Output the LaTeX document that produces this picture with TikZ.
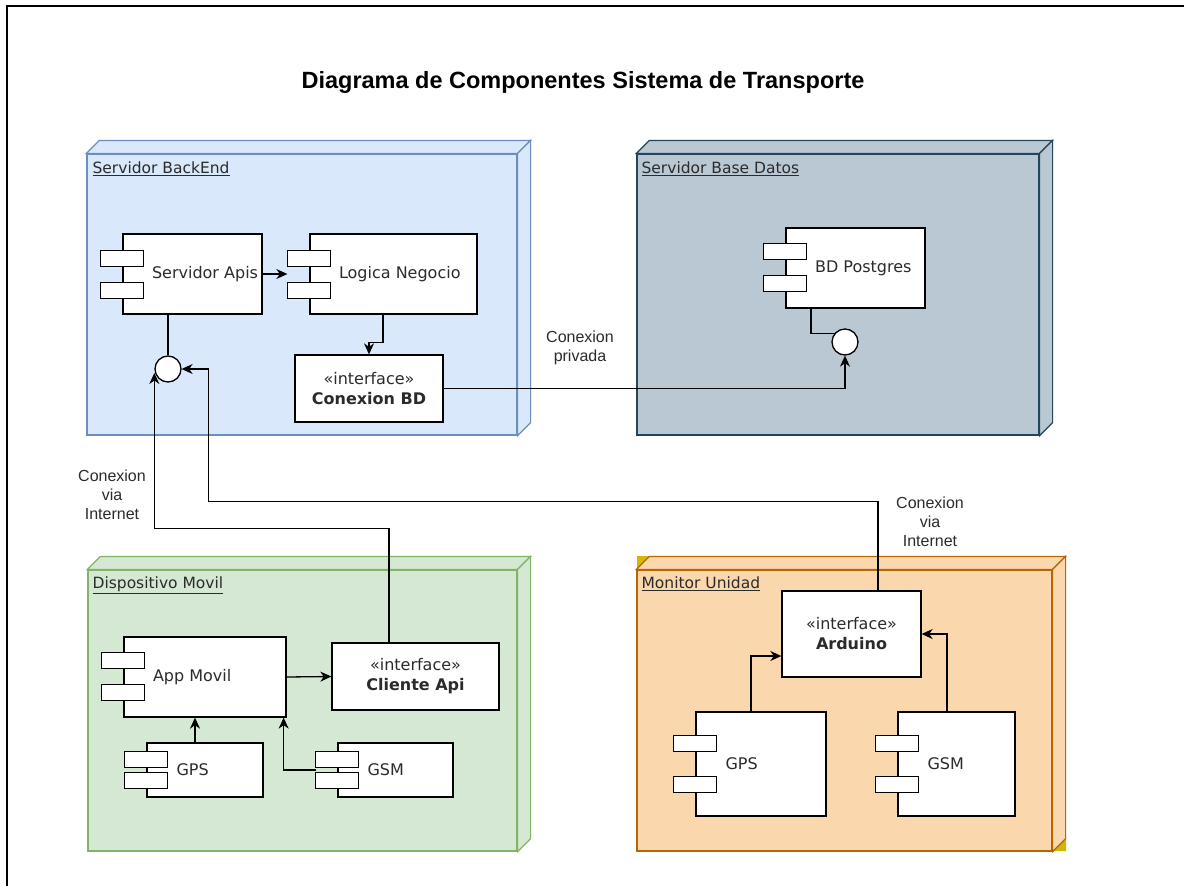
\documentclass[tikz,border=0pt]{standalone}
\usepackage{fontspec}
\setmainfont{DejaVu Sans}
\newfontfamily\labelfont{Liberation Sans}
\usetikzlibrary{arrows.meta,calc}

\definecolor{txt}{HTML}{2B2B2B}
\definecolor{beFill}{HTML}{DAE8FC}\definecolor{beLine}{HTML}{6C8EBF}
\definecolor{dbFill}{HTML}{BAC8D3}\definecolor{dbLine}{HTML}{23445D}
\definecolor{mvFill}{HTML}{D5E8D4}\definecolor{mvLine}{HTML}{82B366}
\definecolor{muFill}{HTML}{FAD7AC}\definecolor{muLine}{HTML}{B46504}
\definecolor{muCorner}{HTML}{D2B800}

% two small tabs on the left side of a UML component
\newcommand\comptabs[3]{%
  \draw[tab] ([shift={(-22,#2)}]#1.north west) rectangle ++(43,16);
  \draw[tab] ([shift={(-22,#3)}]#1.north west) rectangle ++(43,16);}

% depth faces of a deployment node (3D box): node, fill, stroke
\newcommand\cubefaces[3]{%
  \filldraw[fill=#2, draw=#3, line width=1.2pt, line join=miter] (#1.north west) -- ++(13,-13)
     -- ([shift={(13,-13)}]#1.north east) -- (#1.north east) -- cycle;
  \filldraw[fill=#2, draw=#3, line width=1.2pt, line join=miter] (#1.north east) -- ++(13,-13)
     -- ([shift={(13,-13)}]#1.south east) -- (#1.south east) -- cycle;}

\begin{document}
\begin{tikzpicture}[x=1pt,y=-1pt,
  depnode/.style={draw, line width=1.2pt, inner sep=0pt},
  comp/.style={draw=black, fill=white, line width=1.3pt, inner sep=0pt},
  tab/.style={draw=black, fill=white, line width=1.3pt},
  ctext/.style={font=\fontsize{16}{19}\selectfont, text=txt, inner sep=0pt, anchor=west},
  iface/.style={comp, align=center, font=\fontsize{16}{20}\selectfont, text=txt},
  nlabel/.style={font=\fontsize{15.5}{18}\selectfont, text=txt, inner sep=0pt, anchor=base west},
  elabel/.style={font=\labelfont\fontsize{16}{19}\selectfont, align=center, text=txt, inner sep=0pt},
  lollipop/.style={circle, draw=black, fill=white, line width=1.3pt, minimum size=26pt, inner sep=0pt},
  wire/.style={draw=black, line width=1.3pt},
  arr/.style={wire, -{Stealth[length=11pt,width=10pt,inset=3.5pt]}}
]
\useasboundingbox (0,0) rectangle (1184,886);
\fill[white] (0,0) rectangle (1184,886);

% page frame
\draw[line width=2pt] (7,886) -- (7,6) -- (1184,6);

% title
\node[font=\labelfont\bfseries\fontsize{23.5}{28}\selectfont, inner sep=0pt] (title) at (583,82)
  {Diagrama de Componentes Sistema de Transporte};

% ---- deployment nodes ----
\node[depnode, fill=beFill, draw=beLine, minimum width=430pt, minimum height=281pt] (backend) at (302,294.5) {};
\cubefaces{backend}{beFill}{beLine}
\node[nlabel] (backendL) at ([shift={(6,20)}]backend.north west) {\underline{Servidor BackEnd}};

\node[depnode, fill=dbFill, draw=dbLine, minimum width=402pt, minimum height=281pt] (dbserver) at (838,294.5) {};
\cubefaces{dbserver}{dbFill}{dbLine}
\node[nlabel] (dbserverL) at ([shift={(5,20)}]dbserver.north west) {\underline{Servidor Base Datos}};

\node[depnode, fill=mvFill, draw=mvLine, minimum width=429pt, minimum height=281pt] (movil) at (302.5,710.5) {};
\cubefaces{movil}{mvFill}{mvLine}
\node[nlabel] (movilL) at ([shift={(5,19.5)}]movil.north west) {\underline{Dispositivo Movil}};

\fill[muCorner] (637,556) -- (650,556) -- (637,569) -- cycle;
\fill[muCorner] (1066,838) -- (1066,851) -- (1053,851) -- cycle;
\node[depnode, fill=muFill, draw=muLine, minimum width=415pt, minimum height=281pt] (monitor) at (844.5,710.5) {};
\cubefaces{monitor}{muFill}{muLine}
\node[nlabel] (monitorL) at ([shift={(5,19.5)}]monitor.north west) {\underline{Monitor Unidad}};

% ---- Servidor BackEnd ----
\node[comp, minimum width=139pt, minimum height=80pt] (apis) at (192.5,274) {};
\node[ctext] (apisT) at ([xshift=29.5pt]apis.west) {Servidor Apis};
\node[comp, minimum width=167pt, minimum height=80pt] (logica) at (393.5,274) {};
\node[ctext] (logicaT) at ([xshift=29.5pt]logica.west) {Logica Negocio};
\node[iface, minimum width=148pt, minimum height=67pt] (conbd) at (369,388.5)
  {«interface»\\\textbf{Conexion BD}};
\node[lollipop] (apiCirc) at (168,369) {};

% ---- Servidor Base Datos ----
\node[comp, minimum width=139pt, minimum height=80pt] (bdpg) at (855.5,268) {};
\node[ctext] (bdpgT) at ([xshift=29.5pt]bdpg.west) {BD Postgres};
\node[lollipop] (bdCirc) at (845,342) {};

% ---- Dispositivo Movil ----
\node[comp, minimum width=162pt, minimum height=80pt] (app) at (205,677) {};
\node[ctext] (appT) at ([xshift=29.5pt]app.west) {App Movil};
\node[iface, minimum width=167pt, minimum height=67pt] (cliente) at (415.5,676.5)
  {«interface»\\\textbf{Cliente Api}};
\node[comp, minimum width=116pt, minimum height=54pt] (gps1) at (205,770) {};
\node[ctext] (gps1T) at ([xshift=30pt]gps1.west) {GPS};
\node[comp, minimum width=115pt, minimum height=54pt] (gsm1) at (395.5,770) {};
\node[ctext] (gsm1T) at ([xshift=30pt]gsm1.west) {GSM};

% ---- Monitor Unidad ----
\node[iface, minimum width=139pt, minimum height=86pt] (arduino) at (851.5,634)
  {«interface»\\\textbf{Arduino}};
\node[comp, minimum width=130pt, minimum height=104pt] (gps2) at (761,764) {};
\node[ctext] (gps2T) at ([xshift=30pt]gps2.west) {GPS};
\node[comp, minimum width=117pt, minimum height=104pt] (gsm2) at (956.5,764) {};
\node[ctext] (gsm2T) at ([xshift=30pt]gsm2.west) {GSM};

% component tabs
\comptabs{apis}{17}{49}
\comptabs{logica}{17}{49}
\comptabs{bdpg}{16}{48}
\comptabs{app}{16}{48}
\comptabs{gps1}{9}{30}
\comptabs{gsm1}{9}{30}
\comptabs{gps2}{24}{65}
\comptabs{gsm2}{24}{65}

% ---- connectors ----
\draw[arr] (apis.east) -- ([xshift=-22pt]logica.west);
\draw[arr] ([xshift=-10.5pt]logica.south) -- ++(0,28) -| (conbd.north);
\draw[wire] (apiCirc.north) -- (apiCirc.north |- apis.south);
\draw[wire] ([xshift=-44.5pt]bdpg.south) |- (bdCirc.140);
\draw[arr] (conbd.east) -| (bdCirc.south);

\draw[arr] ([xshift=-26.5pt]cliente.north) -- ++(0,-114) -| ([yshift=-4pt]apiCirc.west);
\coordinate (apiIn) at ([xshift=27pt]apiCirc.east);
\draw[arr] ([xshift=26.5pt]arduino.north) -- ++(0,-89) -| (apiIn) -- (apiCirc.east);

\draw[arr] (app.east) -- (cliente.west);
\draw[arr] ([xshift=-10pt]gps1.north) -- ([xshift=-10pt]app.south);
\draw[arr] ([xshift=-21pt]gsm1.west) -| ([xshift=-3pt]app.south east);

\draw[arr] ([xshift=-10pt]gps2.north) |- ([yshift=-22pt]arduino.west);
\draw[arr] ([xshift=-9.5pt]gsm2.north) |- (arduino.east);

% connector labels
\node[elabel] (lblPriv) at (580,348) {Conexion\\privada};
\node[elabel] (lblNetL) at (112,495) {Conexion\\via\\Internet};
\node[elabel] (lblNetR) at (930,522) {Conexion\\via\\Internet};
\end{tikzpicture}
\end{document}
